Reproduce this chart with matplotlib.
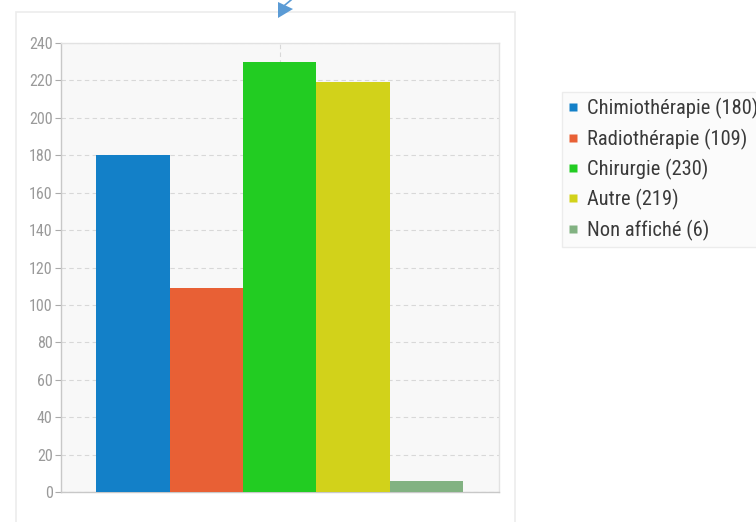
import matplotlib
matplotlib.use("Agg")
import matplotlib.pyplot as plt
from matplotlib.patches import Rectangle, Polygon
from matplotlib.lines import Line2D
from matplotlib import font_manager as fm

categories = ["Chimiothérapie", "Radiothérapie", "Chirurgie", "Autre", "Non affiché"]
values = [180, 109, 230, 219, 6]
colors = ["#1380c8", "#e86035", "#22cc22", "#d2d21a", "#82b282"]
yticks = [0, 20, 40, 60, 80, 100, 120, 140, 160, 180, 200, 220, 240]

# pick a narrow face if available
fam = None
for cand in ["DejaVu Sans Condensed", "Liberation Sans Narrow", "Roboto Condensed"]:
    try:
        fm.findfont(fm.FontProperties(family=cand), fallback_to_default=False)
        fam = cand
        break
    except Exception:
        pass
narrow = fam is not None
if fam is None:
    fam = "DejaVu Sans"
plt.rcParams["font.family"] = [fam, "DejaVu Sans"]

fig = plt.figure(figsize=(7.56, 5.22), dpi=100)
W, H = 756, 522

def fx(px):
    return px / W

def fy(py):
    return (H - py) / H

# outer panel frame
fig.patches.append(Rectangle((fx(16), fy(530)), fx(515) - fx(16), fy(12) - fy(530),
                             transform=fig.transFigure, facecolor="white",
                             edgecolor="#ececec", lw=1.2, zorder=-5))

ax = fig.add_axes([fx(61), fy(492), fx(499) - fx(61), fy(43) - fy(492)])
ax.set_facecolor("#f8f8f8")
x = list(range(len(values)))
ax.bar(x, values, width=1.0, color=colors, zorder=3, edgecolor="none")
ax.set_xlim(-0.98, 4.99)
ax.set_ylim(0, 240)
ax.set_yticks(yticks)
ax.set_yticklabels([str(t) for t in yticks], color="#9a9a9a",
                   fontsize=11.5 if narrow else 9.5)
ax.set_xticks([2])
ax.set_xticklabels([""])
ax.tick_params(axis="x", length=0)
ax.tick_params(axis="y", length=4, color="#aaaaaa", width=0.8, pad=2)
ax.grid(axis="y", color="#d8d8d8", linestyle=(0, (4, 3)), lw=0.8, zorder=1)
ax.grid(axis="x", color="#d8d8d8", linestyle=(0, (4, 3)), lw=0.8, zorder=1)
for s in ["top", "right"]:
    ax.spines[s].set_color("#e2e2e2")
for s in ["left", "bottom"]:
    ax.spines[s].set_color("#c8c8c8")
for s in ax.spines.values():
    s.set_linewidth(1.0)

# legend
lfs = 14.8 if narrow else 11.5
handles = [Line2D([0], [0], marker="s", color="none", markerfacecolor=c,
                  markeredgecolor="none", markersize=5.5) for c in colors]
labels = [f"{c} ({v})" for c, v in zip(categories, values)]
leg = fig.legend(handles, labels, loc="upper left",
                 bbox_to_anchor=(fx(562), fy(92)),
                 frameon=True, fontsize=lfs, handlelength=0.45,
                 handletextpad=0.45, labelspacing=0.45,
                 borderpad=0.3,
                 borderaxespad=0, fancybox=False, edgecolor="#e8e8e8",
                 facecolor="#fafafa")
leg.get_frame().set_linewidth(1.0)
for t in leg.get_texts():
    t.set_color("#3a3a3a")

# annotation arrow at top
fig.add_artist(Line2D([fx(285), fx(291)], [fy(5), fy(0)],
                      transform=fig.transFigure, color="#5b9bd5", lw=1.2))
fig.add_artist(Polygon([(fx(278), fy(2)), (fx(293), fy(9)), (fx(278), fy(18))],
                       closed=True, transform=fig.transFigure,
                       facecolor="#5b9bd5", edgecolor="none"))

fig.savefig("out.png", dpi=100)
